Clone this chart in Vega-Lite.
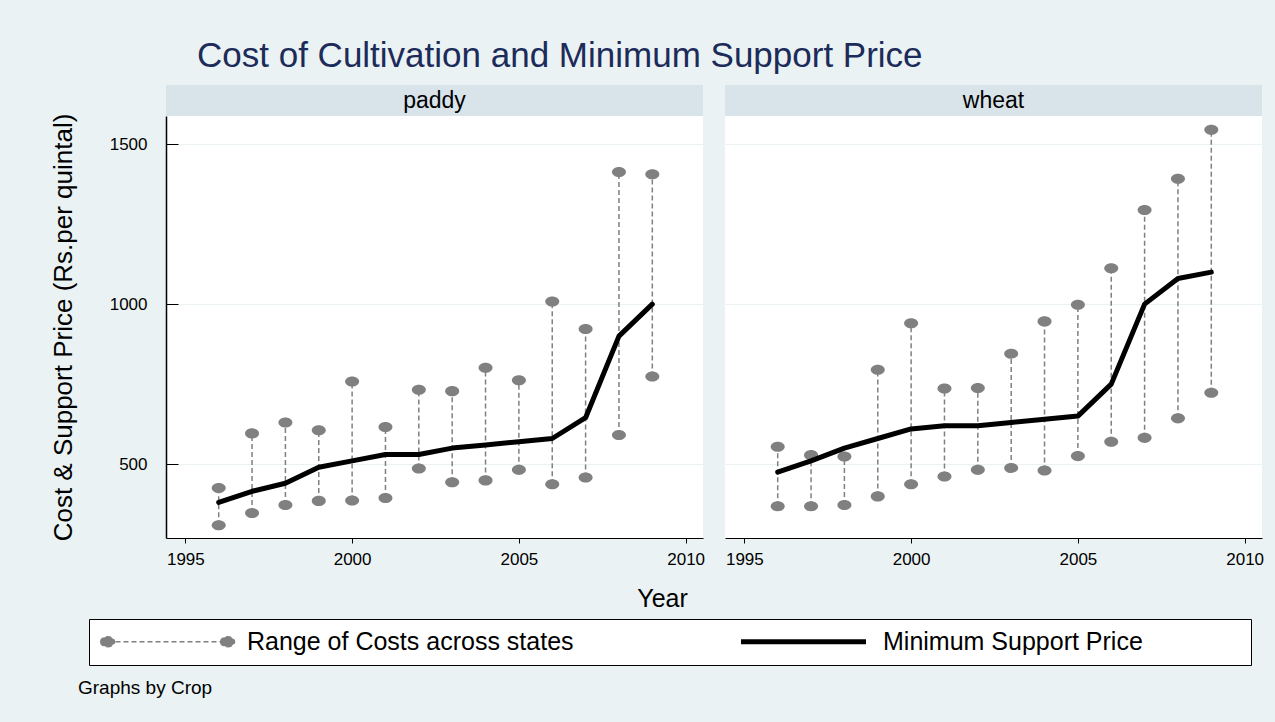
{
  "$schema": "https://vega.github.io/schema/vega-lite/v6.json",
  "background": "#EAF2F3",
  "padding": {"left": 50, "top": 39, "right": 11, "bottom": 24},
  "datasets": {
    "cost": [
      {"crop": "paddy", "year": 1996, "low": 309, "high": 425, "msp": 380},
      {"crop": "paddy", "year": 1997, "low": 347, "high": 596, "msp": 415},
      {"crop": "paddy", "year": 1998, "low": 372, "high": 630, "msp": 440},
      {"crop": "paddy", "year": 1999, "low": 385, "high": 606, "msp": 490},
      {"crop": "paddy", "year": 2000, "low": 386, "high": 758, "msp": 510},
      {"crop": "paddy", "year": 2001, "low": 394, "high": 616, "msp": 530},
      {"crop": "paddy", "year": 2002, "low": 486, "high": 732, "msp": 530},
      {"crop": "paddy", "year": 2003, "low": 443, "high": 728, "msp": 550},
      {"crop": "paddy", "year": 2004, "low": 449, "high": 801, "msp": 560},
      {"crop": "paddy", "year": 2005, "low": 482, "high": 762, "msp": 570},
      {"crop": "paddy", "year": 2006, "low": 437, "high": 1008, "msp": 580},
      {"crop": "paddy", "year": 2007, "low": 458, "high": 922, "msp": 645},
      {"crop": "paddy", "year": 2008, "low": 591, "high": 1413, "msp": 900},
      {"crop": "paddy", "year": 2009, "low": 774, "high": 1406, "msp": 1000},
      {"crop": "wheat", "year": 1996, "low": 368, "high": 554, "msp": 475},
      {"crop": "wheat", "year": 1997, "low": 368, "high": 528, "msp": 510},
      {"crop": "wheat", "year": 1998, "low": 372, "high": 524, "msp": 550},
      {"crop": "wheat", "year": 1999, "low": 399, "high": 795, "msp": 580},
      {"crop": "wheat", "year": 2000, "low": 437, "high": 940, "msp": 610},
      {"crop": "wheat", "year": 2001, "low": 461, "high": 736, "msp": 620},
      {"crop": "wheat", "year": 2002, "low": 482, "high": 738, "msp": 620},
      {"crop": "wheat", "year": 2003, "low": 488, "high": 845, "msp": 630},
      {"crop": "wheat", "year": 2004, "low": 480, "high": 946, "msp": 640},
      {"crop": "wheat", "year": 2005, "low": 525, "high": 998, "msp": 650},
      {"crop": "wheat", "year": 2006, "low": 570, "high": 1112, "msp": 750},
      {"crop": "wheat", "year": 2007, "low": 582, "high": 1294, "msp": 1000},
      {"crop": "wheat", "year": 2008, "low": 643, "high": 1392, "msp": 1080},
      {"crop": "wheat", "year": 2009, "low": 723, "high": 1545, "msp": 1100}
    ]
  },
  "title": {"text": "Graphs by Crop", "orient": "bottom", "anchor": "start", "frame": "group", "dx": -88, "offset": 28, "fontSize": 19, "fontWeight": "normal", "font": "Liberation Sans", "color": "black", "baseline": "alphabetic"},
  "vconcat": [
    {
      "title": {"text": "Cost of Cultivation and Minimum Support Price", "anchor": "start", "frame": "group", "dx": 31, "offset": -17, "fontSize": 35, "fontWeight": "normal", "color": "#1c2b59", "font": "Liberation Sans", "baseline": "alphabetic"},
      "columns": 2,
      "spacing": {"row": 0, "column": 22},
      "bounds": "flush",
      "concat": [
        {
          "width": 537, "height": 31,
          "view": {"fill": "#D8E4EA", "stroke": null},
          "data": {"values": [{"crop": "paddy"}]},
          "mark": {"type": "text", "fontSize": 23, "font": "Liberation Sans", "color": "black"},
          "encoding": {"text": {"field": "crop", "type": "nominal"}}
        },
        {
          "width": 537, "height": 31,
          "view": {"fill": "#D8E4EA", "stroke": null},
          "data": {"values": [{"crop": "wheat"}]},
          "mark": {"type": "text", "fontSize": 23, "font": "Liberation Sans", "color": "black"},
          "encoding": {"text": {"field": "crop", "type": "nominal"}}
        },
        {
          "width": 537, "height": 422,
          "view": {"fill": "white", "stroke": null},
          "data": {"name": "cost"},
          "transform": [{"filter": "datum.crop === 'paddy'"}],
          "encoding": {
            "x": {"field": "year", "type": "quantitative", "scale": {"domain": [1994.42, 2010.52], "nice": false, "zero": false},
                  "axis": {"values": [1995, 2000, 2005, 2010], "format": "d", "tickSize": 5, "labelPadding": 8, "labelFlush": false, "grid": false, "title": "Year", "titleX": 496, "titlePadding": 19, "domainWidth": 1}}
          },
          "layer": [
            {
              "mark": {"type": "rule", "strokeDash": [5, 3], "strokeWidth": 1.5},
              "encoding": {
                "y": {"field": "low", "type": "quantitative", "scale": {"domain": [269, 1588], "nice": false, "zero": false},
                      "axis": {"values": [500, 1000, 1500], "format": "d", "title": "Cost & Support Price (Rs.per quintal)", "tickSize": -12, "labelPadding": 31, "titlePadding": 33, "titleFontSize": 26, "domainWidth": 1.5, "grid": true}},
                "y2": {"field": "high"},
                "color": {"datum": "Range of Costs across states", "type": "nominal",
                  "scale": {"domain": ["Range of Costs across states", "Minimum Support Price"], "range": ["#808080", "#000000"]},
                  "legend": {
                    "title": null, "orient": "none", "legendX": -77, "legendY": 534,
                    "direction": "horizontal", "columns": 2, "gridAlign": "each", "columnPadding": 156,
                    "fillColor": "white", "strokeColor": "black", "padding": 10,
                    "labelFont": "Liberation Sans", "labelFontSize": 25, "labelColor": "black", "labelLimit": 800,
                    "symbolSize": 100, "symbolOffset": 56, "labelOffset": 67,
                    "labelExpr": "datum.label === 'Minimum Support Price' ? datum.label + '\u00a0\u00a0\u00a0\u00a0\u00a0\u00a0\u00a0\u00a0\u00a0\u00a0\u00a0\u00a0\u00a0\u00a0\u200b' : datum.label",
                    "encode": {"symbols": {"update": {
                      "shape": {"signal": "datum.value === 'Range of Costs across states' ? 'M-0.8955,0L0.8955,0M-1,0A0.1045,0.0746,0,1,1,-0.791,0A0.1045,0.0746,0,1,1,-1,0ZM0.791,0A0.1045,0.0746,0,1,1,1,0A0.1045,0.0746,0,1,1,0.791,0Z' : 'M-0.933,0L0.933,0'"},
                      "fill": {"signal": "datum.value === 'Range of Costs across states' ? '#808080' : 'transparent'"},
                      "stroke": {"signal": "datum.value === 'Range of Costs across states' ? '#808080' : '#000000'"},
                      "strokeDash": {"signal": "datum.value === 'Range of Costs across states' ? [5, 3] : [1, 0]"},
                      "strokeWidth": {"signal": "datum.value === 'Range of Costs across states' ? 1.5 : 5"},
                      "size": {"value": 17956},
                      "opacity": {"value": 1}
                    }}}
                  }}
              }
            },
            {
              "mark": {"type": "point", "filled": true, "shape": "M-1,0A1,0.72,0,1,1,1,0A1,0.72,0,1,1,-1,0Z", "size": 196, "color": "#808080", "opacity": 1},
              "encoding": {"y": {"field": "low", "type": "quantitative"}}
            },
            {
              "mark": {"type": "point", "filled": true, "shape": "M-1,0A1,0.72,0,1,1,1,0A1,0.72,0,1,1,-1,0Z", "size": 196, "color": "#808080", "opacity": 1},
              "encoding": {"y": {"field": "high", "type": "quantitative"}}
            },
            {
              "mark": {"type": "line", "strokeWidth": 5, "strokeJoin": "round", "strokeCap": "round"},
              "encoding": {
                "y": {"field": "msp", "type": "quantitative"},
                "color": {"datum": "Minimum Support Price", "type": "nominal"}
              }
            }
          ]
        },
        {
          "width": 537, "height": 422,
          "view": {"fill": "white", "stroke": null},
          "data": {"name": "cost"},
          "transform": [{"filter": "datum.crop === 'wheat'"}],
          "encoding": {
            "x": {"field": "year", "type": "quantitative", "scale": {"domain": [1994.42, 2010.52], "nice": false, "zero": false},
                  "axis": {"values": [1995, 2000, 2005, 2010], "format": "d", "tickSize": 5, "labelPadding": 8, "labelFlush": false, "grid": false, "title": null, "domainWidth": 1}}
          },
          "layer": [
            {
              "mark": {"type": "rule", "strokeDash": [5, 3], "strokeWidth": 1.5},
              "encoding": {
                "y": {"field": "low", "type": "quantitative", "scale": {"domain": [269, 1588], "nice": false, "zero": false},
                      "axis": {"values": [500, 1000, 1500], "title": null, "labels": false, "ticks": false, "domain": false, "grid": true}},
                "y2": {"field": "high"},
                "color": {"datum": "Range of Costs across states", "type": "nominal"}
              }
            },
            {
              "mark": {"type": "point", "filled": true, "shape": "M-1,0A1,0.72,0,1,1,1,0A1,0.72,0,1,1,-1,0Z", "size": 196, "color": "#808080", "opacity": 1},
              "encoding": {"y": {"field": "low", "type": "quantitative"}}
            },
            {
              "mark": {"type": "point", "filled": true, "shape": "M-1,0A1,0.72,0,1,1,1,0A1,0.72,0,1,1,-1,0Z", "size": 196, "color": "#808080", "opacity": 1},
              "encoding": {"y": {"field": "high", "type": "quantitative"}}
            },
            {
              "mark": {"type": "line", "strokeWidth": 5, "strokeJoin": "round", "strokeCap": "round"},
              "encoding": {
                "y": {"field": "msp", "type": "quantitative"},
                "color": {"datum": "Minimum Support Price", "type": "nominal"}
              }
            }
          ]
        }
      ]
    }
  ],
  "config": {
    "font": "Liberation Sans",
    "view": {"stroke": null},
    "axis": {"labelFont": "Liberation Sans", "labelFontSize": 17, "labelColor": "black", "titleFont": "Liberation Sans", "titleFontSize": 25, "titleFontWeight": "normal", "titleColor": "black", "domainColor": "black", "tickColor": "black", "gridColor": "#EAF2F3", "gridWidth": 1}
  }
}
